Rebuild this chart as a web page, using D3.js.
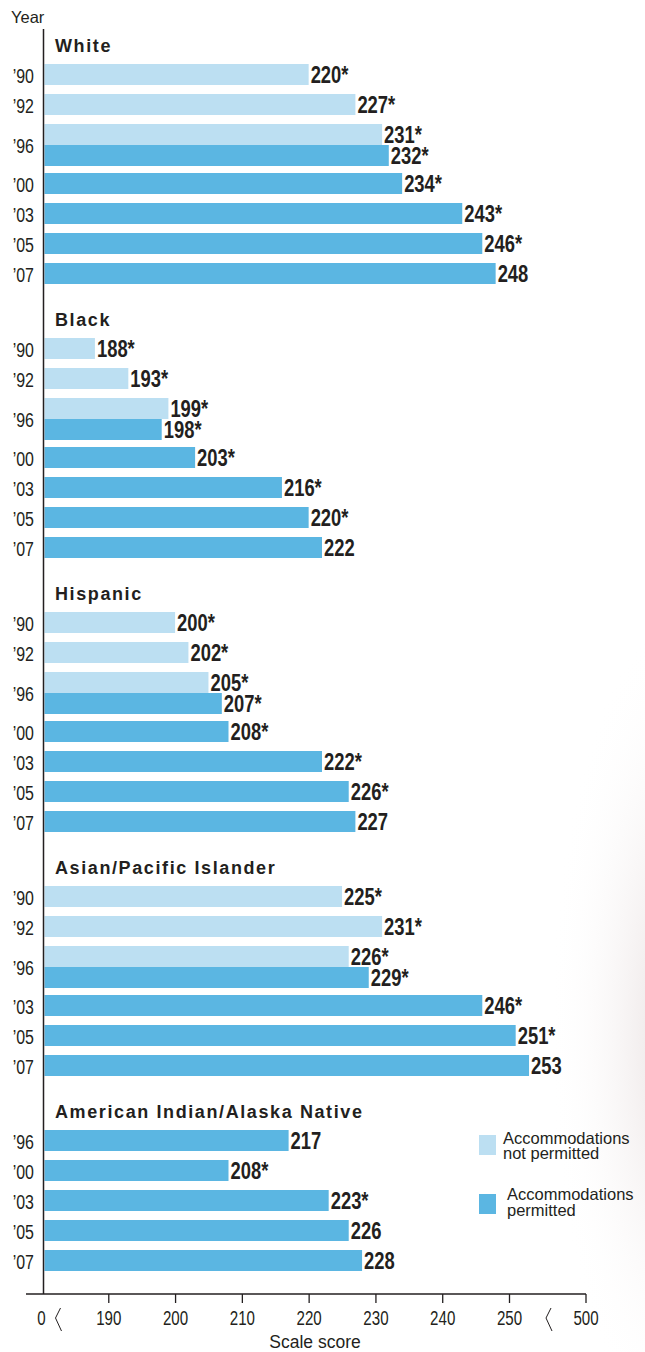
<!DOCTYPE html>
<html>
<head>
<meta charset="utf-8">
<script src="https://cdn.jsdelivr.net/npm/d3@7"></script>
<style>
  body { margin: 0; background: #fff; }
  svg { display: block; }
  text { font-family: "Liberation Sans", Arial, Helvetica, sans-serif; }
</style>
</head>
<body>
<script>
//chart values
var groupNames = ["White", "Black", "Hispanic", "Asian/Pacific Islander", "American Indian/Alaska Native"];

var groupYears = [
    ["90", "92", "96", "00", "03", "05", "07"],
    ["90", "92", "96", "00", "03", "05", "07"],
    ["90", "92", "96", "00", "03", "05", "07"],
    ["90", "92", "96", "03", "05", "07"],
    ["96", "00", "03", "05", "07"]
];

//accommodations not permitted (light bars), null = no bar
var notPermitted = [
    [220, 227, 231, null, null, null, null],
    [188, 193, 199, null, null, null, null],
    [200, 202, 205, null, null, null, null],
    [225, 231, 226, null, null, null],
    [null, null, null, null, null]
];
var notPermittedSig = [
    [1, 1, 1, 0, 0, 0, 0],
    [1, 1, 1, 0, 0, 0, 0],
    [1, 1, 1, 0, 0, 0, 0],
    [1, 1, 1, 0, 0, 0],
    [0, 0, 0, 0, 0]
];

//accommodations permitted (dark bars)
var permitted = [
    [null, null, 232, 234, 243, 246, 248],
    [null, null, 198, 203, 216, 220, 222],
    [null, null, 207, 208, 222, 226, 227],
    [null, null, 229, 246, 251, 253],
    [217, 208, 223, 226, 228]
];
var permittedSig = [
    [0, 0, 1, 1, 1, 1, 0],
    [0, 0, 1, 1, 1, 1, 0],
    [0, 0, 1, 1, 1, 1, 0],
    [0, 0, 1, 1, 1, 0],
    [0, 1, 1, 0, 0]
];

var axisTicks = [190, 200, 210, 220, 230, 240, 250];
var breakLabels = ["0", "500"];
var legendLabels = [["Accommodations", "not permitted"], ["Accommodations", "permitted"]];

var lightColor = "#bcdff2",
    darkColor = "#5bb6e2",
    ink = "#231f20";

var width = 645, height = 1352;

var svg = d3.select("body").append("svg")
    .attr("width", width)
    .attr("height", height);

//faint photo shadow on the right edge
var defs = svg.append("defs");
var grad = defs.append("radialGradient")
    .attr("id", "shade")
    .attr("cx", 0.5).attr("cy", 0.5).attr("r", 0.5);
grad.append("stop").attr("offset", "0%").attr("stop-color", "#e3d9d9").attr("stop-opacity", 1);
grad.append("stop").attr("offset", "100%").attr("stop-color", "#ffffff").attr("stop-opacity", 0);
svg.append("ellipse")
    .attr("cx", 690).attr("cy", 1030)
    .attr("rx", 140).attr("ry", 420)
    .style("fill", "url(#shade)");

//condensed look: squeeze text horizontally around its anchor point
function squeeze(sel, sx, fx, fy){
    sel.attr("x", 0).attr("y", 0)
        .attr("transform", function(d, i){
            return "translate(" + fx(d, i) + "," + fy(d, i) + ") scale(" + sx + ",1)";
        });
}

//x scale (broken axis: 0 ... 190-250 ... 500)
var x = d3.scaleLinear()
    .domain([180, 250])
    .range([41.5, 509]);

var axisY = 1294,
    barLeft = 44.5,
    barH = 21;

//build the row layout
var rows = [], titles = [];
var cursor = 64;
groupNames.forEach(function(name, gi){
    titles.push({name: name, y: cursor - 12});
    groupYears[gi].forEach(function(yr, ri){
        var np = notPermitted[gi][ri], p = permitted[gi][ri];
        if (np != null && p != null){
            rows.push({year: yr, labelY: cursor + 29, bars: [
                {v: np, sig: notPermittedSig[gi][ri], fill: lightColor, y: cursor},
                {v: p, sig: permittedSig[gi][ri], fill: darkColor, y: cursor + barH}
            ]});
            cursor += 49;
        } else {
            var isLight = np != null;
            rows.push({year: yr, labelY: cursor + 19, bars: [
                {v: isLight ? np : p,
                 sig: isLight ? notPermittedSig[gi][ri] : permittedSig[gi][ri],
                 fill: isLight ? lightColor : darkColor, y: cursor}
            ]});
            cursor += 30;
        }
    });
    cursor += 45;
});

var bars = [];
rows.forEach(function(r){ r.bars.forEach(function(b){ bars.push(b); }); });

//bars
svg.selectAll(".bar")
    .data(bars)
    .enter()
    .append("rect")
    .attr("class", "bar")
    .attr("x", barLeft)
    .attr("y", function(d){ return d.y; })
    .attr("width", function(d){ return x(d.v) - barLeft; })
    .attr("height", barH)
    .style("fill", function(d){ return d.fill; });

//value labels
svg.selectAll(".val")
    .data(bars)
    .enter()
    .append("text")
    .attr("class", "val")
    .style("font-size", "23px")
    .style("font-weight", "bold")
    .style("fill", ink)
    .text(function(d){ return d.v + (d.sig ? "*" : ""); })
    .call(squeeze, 0.8,
        function(d){ return x(d.v) + 2; },
        function(d){ return d.y + 18.5; });

//year labels
svg.selectAll(".yr")
    .data(rows)
    .enter()
    .append("text")
    .attr("class", "yr")
    .attr("text-anchor", "end")
    .style("font-size", "21px")
    .style("fill", ink)
    .text(function(d){ return "\u2019" + d.year; })
    .call(squeeze, 0.76,
        function(){ return 34; },
        function(d){ return d.labelY; });

//group titles
svg.selectAll(".title")
    .data(titles)
    .enter()
    .append("text")
    .attr("class", "title")
    .attr("x", 55)
    .attr("y", function(d){ return d.y; })
    .style("font-size", "18px")
    .style("font-weight", "bold")
    .style("letter-spacing", "1.6px")
    .style("fill", ink)
    .text(function(d){ return d.name; });

svg.append("text")
    .attr("x", 11)
    .attr("y", 23)
    .style("font-size", "16.5px")
    .style("fill", ink)
    .text("Year");

//left vertical axis line
svg.append("line")
    .attr("x1", 43.5).attr("x2", 43.5)
    .attr("y1", 29).attr("y2", axisY)
    .style("stroke", ink).style("stroke-width", 1.5);

//bottom axis
var endX = 586;
var xAxis = d3.axisBottom(x)
    .tickValues(axisTicks)
    .tickSize(9)
    .tickPadding(6);
var gAxis = svg.append("g")
    .attr("transform", "translate(0," + axisY + ")")
    .call(xAxis);
gAxis.select(".domain").remove();
gAxis.selectAll(".tick line").style("stroke", ink).style("stroke-width", 1.3);
gAxis.selectAll(".tick text")
    .attr("y", 31).attr("dy", null)
    .attr("transform", "scale(0.72,1)")
    .style("font-family", "'Liberation Sans', Arial, sans-serif")
    .style("font-size", "21px")
    .style("fill", ink);

svg.append("line")
    .attr("x1", 26).attr("x2", endX)
    .attr("y1", axisY).attr("y2", axisY)
    .style("stroke", ink).style("stroke-width", 1.5);
svg.append("line")
    .attr("x1", endX).attr("x2", endX)
    .attr("y1", axisY).attr("y2", axisY + 9)
    .style("stroke", ink).style("stroke-width", 1.3);

svg.selectAll(".brk")
    .data([x.range()[0], endX])
    .enter()
    .append("text")
    .attr("class", "brk")
    .attr("text-anchor", "middle")
    .style("font-size", "21px")
    .style("fill", ink)
    .text(function(d, i){ return breakLabels[i]; })
    .call(squeeze, 0.72,
        function(d){ return d; },
        function(){ return axisY + 31; });

//axis break marks
svg.selectAll(".zig")
    .data([x.range()[0] + 17, endX - 37])
    .enter()
    .append("path")
    .attr("class", "zig")
    .attr("d", function(d){
        return "M" + (d + 2) + "," + (axisY + 14) + "L" + (d - 3) + "," + (axisY + 24) + "L" + (d + 3) + "," + (axisY + 37);
    })
    .style("fill", "none")
    .style("stroke", ink)
    .style("stroke-width", 1);

svg.append("text")
    .attr("x", 315)
    .attr("y", 1348)
    .attr("text-anchor", "middle")
    .style("font-size", "17.5px")
    .style("fill", ink)
    .text("Scale score");

//legend
var legendItems = [
    {fill: lightColor, y: 1135, tx: 503, ty: 1143.5},
    {fill: darkColor, y: 1194, tx: 507, ty: 1200}
];
var leg = svg.selectAll(".leg")
    .data(legendItems)
    .enter()
    .append("g")
    .attr("class", "leg");
leg.append("rect")
    .attr("x", 479)
    .attr("y", function(d){ return d.y; })
    .attr("width", 17)
    .attr("height", 20)
    .style("fill", function(d){ return d.fill; });
leg.append("text")
    .attr("x", function(d){ return d.tx; })
    .attr("y", function(d){ return d.ty; })
    .style("font-size", "16.5px")
    .style("fill", ink)
    .selectAll("tspan")
    .data(function(d, i){ return legendLabels[i]; })
    .enter()
    .append("tspan")
    .attr("x", function(){ return d3.select(this.parentNode).attr("x"); })
    .attr("dy", function(d, i){ return i ? 15.5 : 0; })
    .text(function(d){ return d; });
</script>
</body>
</html>
